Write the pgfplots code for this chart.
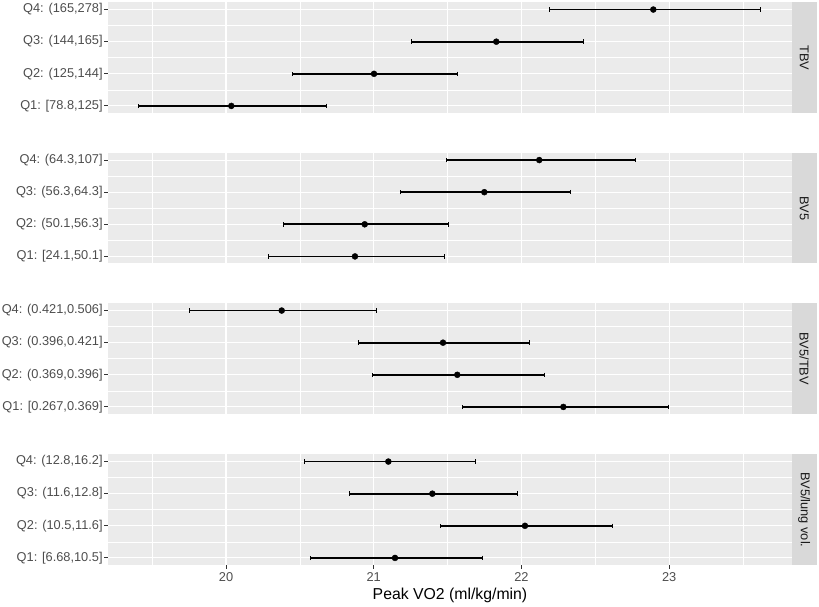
\documentclass[border=0pt]{standalone}
\usepackage{pgfplots}
\usepackage{pgfplotstable}
\pgfplotsset{compat=1.18}
\usepackage{fontspec}
\setmainfont{Liberation Sans}
\definecolor{gray92}{HTML}{EBEBEB}
\definecolor{gray85}{HTML}{D9D9D9}
\definecolor{gray30}{HTML}{4D4D4D}
\definecolor{gray20}{HTML}{333333}
\definecolor{gray10}{HTML}{1A1A1A}

\pgfplotstableread{
y m lo hi
4 22.893 22.189 23.618
3 21.830 21.253 22.422
2 21.002 20.449 21.569
1 20.036 19.409 20.679
}\tbv
\pgfplotstableread{
y m lo hi
4 22.121 21.494 22.771
3 21.749 21.178 22.334
2 20.939 20.388 21.505
1 20.873 20.287 21.476
}\bvfive
\pgfplotstableread{
y m lo hi
4 20.377 19.756 21.020
3 21.469 20.900 22.058
2 21.566 20.995 22.153
1 22.284 21.602 22.993
}\bvtbv
\pgfplotstableread{
y m lo hi
4 21.099 20.528 21.691
3 21.397 20.837 21.975
2 22.024 21.449 22.615
1 21.144 20.569 21.738
}\bvlung

\newcommand{\tfont}{\fontsize{12.8}{14}\selectfont}

\pgfplotsset{
 panel/.style={
  at={(108.3pt,#1)}, anchor=south west, scale only axis,
  width=683.4pt, height=110.5pt,
  xmin=19.203, xmax=23.83, ymin=0.78, ymax=4.22,
  xtick={20,21,22,23}, minor xtick={19.5,20.5,21.5,22.5,23.5},
  ytick={1,2,3,4}, minor ytick={1.5,2.5,3.5},
  grid=both,
  major grid style={white, line width=1.1pt},
  minor grid style={white, line width=0.55pt},
  axis background/.style={fill=gray92},
  axis line style={draw=none},
  tick align=outside, xtick pos=bottom, ytick pos=left,
  major tick length=4pt, minor tick length=0pt,
  tick style={gray20, line width=1pt},
  ticklabel style={font=\tfont, text=gray30},
  yticklabel style={inner sep=1.5pt},
  /pgf/number format/assume math mode=true,
  clip=false,
 },
 ebar/.style={only marks, mark=*, mark size=3pt, black,
  error bars/.cd, x dir=both, x explicit,
  error bar style={line width=1.8pt, black},
  error mark=|,
  error mark options={black, line width=1pt, mark size=2.3pt}},
}

\newcommand{\strip}[1]{%
 \fill[gray85] (rel axis cs:1,0) rectangle ([xshift=25pt]rel axis cs:1,1);
 \node[rotate=-90, text=gray10, font=\tfont, inner sep=0pt] at ([xshift=12.5pt]rel axis cs:1,0.5) {#1};
}

\begin{document}
\begin{tikzpicture}
\useasboundingbox (0,0) rectangle (819pt,607pt);

\begin{axis}[panel=494pt, xticklabels={}, xtick style={draw=none},
  yticklabels={{Q1: [78.8,125]},{Q2: (125,144]},{Q3: (144,165]},{Q4: (165,278]}}]
\addplot[ebar] table[x=m, y=y, x error plus expr=\thisrow{hi}-\thisrow{m}, x error minus expr=\thisrow{m}-\thisrow{lo}] {\tbv};
\strip{TBV}
\end{axis}

\begin{axis}[panel=343.5pt, xticklabels={}, xtick style={draw=none},
  yticklabels={{Q1: [24.1,50.1]},{Q2: (50.1,56.3]},{Q3: (56.3,64.3]},{Q4: (64.3,107]}}]
\addplot[ebar] table[x=m, y=y, x error plus expr=\thisrow{hi}-\thisrow{m}, x error minus expr=\thisrow{m}-\thisrow{lo}] {\bvfive};
\strip{BV5}
\end{axis}

\begin{axis}[panel=193pt, xticklabels={}, xtick style={draw=none},
  yticklabels={{Q1: [0.267,0.369]},{Q2: (0.369,0.396]},{Q3: (0.396,0.421]},{Q4: (0.421,0.506]}}]
\addplot[ebar] table[x=m, y=y, x error plus expr=\thisrow{hi}-\thisrow{m}, x error minus expr=\thisrow{m}-\thisrow{lo}] {\bvtbv};
\strip{BV5/TBV}
\end{axis}

\begin{axis}[panel=42pt,
  yticklabels={{Q1: [6.68,10.5]},{Q2: (10.5,11.6]},{Q3: (11.6,12.8]},{Q4: (12.8,16.2]}},
  xlabel={Peak VO2 (ml/kg/min)},
  xlabel style={font=\fontsize{15.8}{18}\selectfont, text=black}]
\addplot[ebar] table[x=m, y=y, x error plus expr=\thisrow{hi}-\thisrow{m}, x error minus expr=\thisrow{m}-\thisrow{lo}] {\bvlung};
\strip{BV5/lung vol.}
\end{axis}
\end{tikzpicture}
\end{document}
